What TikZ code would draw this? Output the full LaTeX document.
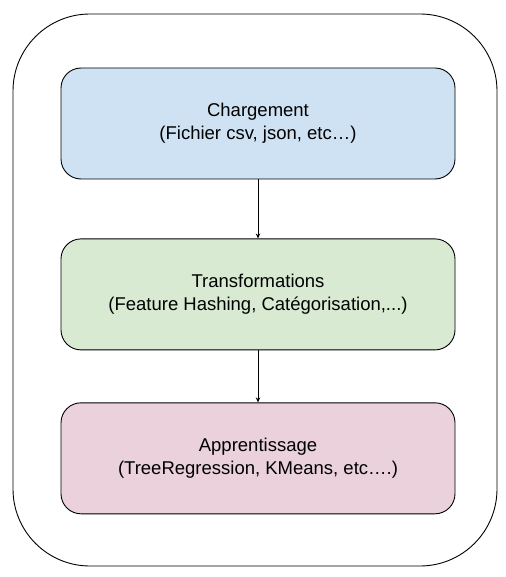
\documentclass[tikz,border=0pt]{standalone}
\usepackage{fontspec}
\setmainfont{Liberation Sans}
\usepackage{tikz}
\usetikzlibrary{positioning,arrows.meta}
\definecolor{bleu}{HTML}{CFE2F3}
\definecolor{vert}{HTML}{D9EAD3}
\definecolor{rose}{HTML}{EAD1DC}

\begin{document}
\begin{tikzpicture}[x=1pt, y=-1pt,
	etape/.style={draw, line width=0.9pt, rounded corners=20pt, % caixas das etapas
		minimum width=394pt, minimum height=111pt, align=center,
		font=\fontsize{18.5}{23}\selectfont},
	fleche/.style={draw, line width=0.9pt, -{Stealth[length=5pt,width=4.5pt]}},
	cadre/.style={draw, line width=0.9pt, rounded corners=77pt}]
\useasboundingbox (0,0) rectangle (505,577);
% cadre exterior
\draw[cadre] (13,14) rectangle (497,566);
% etapes
\node[etape, fill=bleu] (chargement) at (258,123.5) {Chargement\\(Fichier csv, json, etc…)};
\node[etape, fill=vert, below=59pt of chargement] (transfo) {Transformations\\(Feature Hashing, Catégorisation,...)};
\node[etape, fill=rose, below=52pt of transfo] (apprentissage) {Apprentissage\\(TreeRegression, KMeans, etc….)};
% fleches
\draw[fleche] (chargement) -- (transfo);
\draw[fleche] (transfo) -- (apprentissage);
\end{tikzpicture}
\end{document}
